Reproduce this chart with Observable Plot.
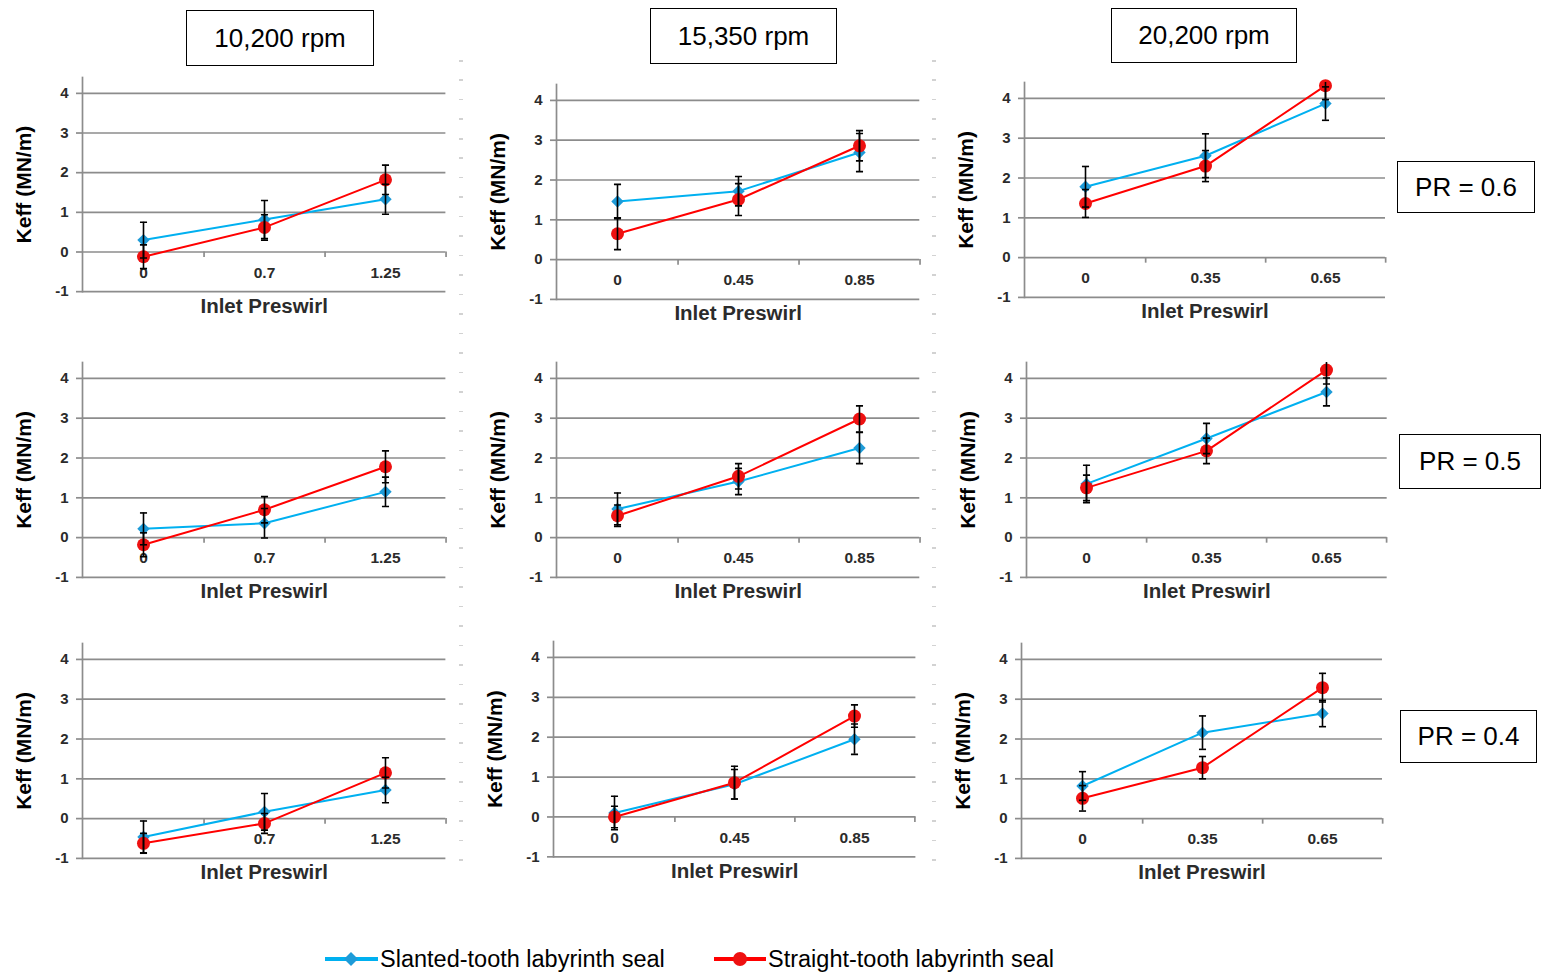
<!DOCTYPE html>
<html>
<head>
<meta charset="utf-8">
<script src="https://cdn.jsdelivr.net/npm/d3@7"></script>
<script src="https://cdn.jsdelivr.net/npm/@observablehq/plot@0.6"></script>
<style>
  html, body { margin: 0; padding: 0; background: #fff; }
  #root { position: relative; width: 1542px; height: 974px; overflow: hidden; font-family: "Liberation Sans", Arial, sans-serif; }
  .box { position: absolute; border: 1.6px solid #000; box-sizing: border-box; display: flex; align-items: center; justify-content: center; font-size: 26px; color: #000; background: #fff; }
  .panel { position: absolute; }
  .sep { position: absolute; width: 4px; background: repeating-linear-gradient(to bottom, #d2d2d2 0 1.5px, transparent 1.5px 19.5px); }
  .legend { position: absolute; left: 0; top: 935px; width: 1542px; height: 40px; }
</style>
</head>
<body>
<div id="root"></div>
<script>
// ---------------- DATA ----------------
const seals = ["Slanted-tooth labyrinth seal", "Straight-tooth labyrinth seal"];
const speeds = ["10,200 rpm", "15,350 rpm", "20,200 rpm"];
const pressureRatios = ["PR = 0.6", "PR = 0.5", "PR = 0.4"];
// inlet preswirl categories, per speed column
const preswirlTicks = [["0", "0.7", "1.25"], ["0", "0.45", "0.85"], ["0", "0.35", "0.65"]];
const yTicks = [-1, 0, 1, 2, 3, 4];
const xTitle = "Inlet Preswirl";
const yTitle = "Keff (MN/m)";
// [PR row][speed column][preswirl]
const slantedKeff = [
  [[0.30, 0.82, 1.33], [1.46, 1.72, 2.69], [1.78, 2.56, 3.87]],
  [[0.22, 0.36, 1.15], [0.72, 1.41, 2.25], [1.35, 2.49, 3.66]],
  [[-0.46, 0.17, 0.72], [0.10, 0.82, 1.95], [0.82, 2.16, 2.64]]
];
const slantedErr = [
  [[0.45, 0.48, 0.38], [0.43, 0.37, 0.48], [0.51, 0.55, 0.42]],
  [[0.40, 0.37, 0.37], [0.40, 0.33, 0.39], [0.47, 0.38, 0.35]],
  [[0.40, 0.46, 0.32], [0.42, 0.37, 0.38], [0.36, 0.42, 0.33]]
];
const straightKeff = [
  [[-0.12, 0.62, 1.82], [0.65, 1.51, 2.86], [1.36, 2.30, 4.32]],
  [[-0.18, 0.70, 1.78], [0.55, 1.54, 2.98], [1.25, 2.18, 4.21]],
  [[-0.62, -0.12, 1.15], [0.00, 0.86, 2.53], [0.51, 1.28, 3.29]]
];
const straightErr = [
  [[0.30, 0.32, 0.37], [0.40, 0.40, 0.38], [0.35, 0.39, 0.35]],
  [[0.30, 0.33, 0.40], [0.27, 0.32, 0.33], [0.32, 0.32, 0.35]],
  [[0.25, 0.25, 0.38], [0.27, 0.41, 0.28], [0.32, 0.28, 0.36]]
];

// ---------------- LAYOUT (plot frames: left, right, y(4), y(-1)) ----------------
const frames = [
  [[82.3, 445.7, 92.7, 291.0], [555.7, 919.0, 100.0, 299.0], [1024.0, 1385.0, 98.3, 297.3]],
  [[82.3, 445.7, 377.7, 576.7], [555.7, 919.0, 377.7, 576.7], [1026.0, 1386.7, 377.7, 576.7]],
  [[82.3, 445.7, 659.3, 858.3], [553.3, 915.7, 657.3, 856.7], [1020.7, 1381.7, 659.3, 858.3]]
];
const headerBoxes = [[186, 10, 188, 56], [650, 8, 187, 56], [1111, 8, 186, 55]];
const prBoxes = [[1397, 161, 138, 52], [1399, 434, 142, 55], [1400, 710, 137, 53]];

const blueLine = "#00B0F0", blueMark = "#1E9BD8";
const redLine = "#FF0000", redMark = "#EE1111";
const gridColor = "#8C8C8C";
const textColor = "#2b2b2b";
const yMax = 4.4;

const root = document.getElementById("root");

// dotted separators (artifact of the composite figure)
[[459, 60, 815], [932, 60, 815]].forEach(([x, y, h]) => {
  const d = document.createElement("div");
  d.className = "sep";
  Object.assign(d.style, {left: x + "px", top: y + "px", height: h + "px"});
  root.appendChild(d);
});

const capSymbol = {
  draw(context, size) {
    const w = Math.sqrt(size);
    context.moveTo(-w / 2, 0);
    context.lineTo(w / 2, 0);
  }
};

for (let r = 0; r < 3; r++) {
  for (let c = 0; c < 3; c++) {
    const [L, R, y4, yb] = frames[r][c];
    const unit = (yb - y4) / 5;
    const frameTop = y4 - (yMax - 4) * unit;
    const mL = 84, mR = 6, mT = 4, mB = 44;
    const width = (R - L) + mL + mR;
    const height = (yb - frameTop) + mT + mB;
    const labels = preswirlTicks[c];
    const step = (R - L) / labels.length;

    const table = [];
    labels.forEach((p, i) => {
      table.push({seal: seals[0], preswirl: p, keff: slantedKeff[r][c][i], err: slantedErr[r][c][i]});
    });
    labels.forEach((p, i) => {
      table.push({seal: seals[1], preswirl: p, keff: straightKeff[r][c][i], err: straightErr[r][c][i]});
    });
    const slantedRows = table.filter(d => d.seal === seals[0]);
    const straightRows = table.filter(d => d.seal === seals[1]);

    const chart = Plot.plot({
      width, height,
      marginLeft: mL, marginRight: mR, marginTop: mT, marginBottom: mB,
      style: {fontFamily: '"Liberation Sans", Arial, sans-serif', background: "transparent", overflow: "visible"},
      x: {type: "point", domain: labels, padding: 0.5, axis: null},
      y: {domain: [-1, yMax], nice: false},
      marks: [
        Plot.ruleY(yTicks, {stroke: gridColor, strokeWidth: 1.7}),
        Plot.frame({anchor: "left", stroke: gridColor, strokeWidth: 1.7}),
        Plot.axisY(yTicks, {
          tickSize: 6, tickPadding: 8, tickFormat: d => String(d),
          stroke: gridColor, strokeWidth: 1.7, fill: textColor,
          fontSize: 15, fontWeight: "bold", label: null
        }),
        // category boundary tick marks on the y = 0 axis
        Plot.ruleX(labels, {x: d => d, y1: 0, y2: -0.14, dx: step / 2, stroke: gridColor, strokeWidth: 1.7}),
        Plot.text(labels, {x: d => d, frameAnchor: "bottom", dy: -14, fill: textColor, fontSize: 15.5, fontWeight: "bold"}),
        Plot.text([xTitle], {frameAnchor: "bottom", dy: 21, fill: textColor, fontSize: 20.5, fontWeight: "bold"}),
        Plot.text([yTitle], {frameAnchor: "left", textAnchor: "middle", dx: -58, rotate: -90, fill: "#000", fontSize: 21, fontWeight: "bold"}),
        // series lines
        Plot.line(slantedRows, {x: "preswirl", y: "keff", stroke: blueLine, strokeWidth: 2}),
        Plot.line(straightRows, {x: "preswirl", y: "keff", stroke: redLine, strokeWidth: 2}),
        // markers
        Plot.dot(slantedRows, {x: "preswirl", y: "keff", symbol: "diamond2", r: 5.6, fill: blueMark, stroke: "none"}),
        Plot.dot(straightRows, {x: "preswirl", y: "keff", symbol: "circle", r: 6.5, fill: redMark, stroke: "none"}),
        // error bars
        Plot.ruleX(table, {x: "preswirl", y1: d => d.keff - d.err, y2: d => d.keff + d.err, stroke: "#000", strokeWidth: 1.6, clip: true}),
        Plot.dot(table, {x: "preswirl", y: d => d.keff + d.err, symbol: capSymbol, r: 4, stroke: "#000", strokeWidth: 1.6, fill: "none", clip: true}),
        Plot.dot(table, {x: "preswirl", y: d => d.keff - d.err, symbol: capSymbol, r: 4, stroke: "#000", strokeWidth: 1.6, fill: "none", clip: true})
      ]
    });
    const wrap = document.createElement("div");
    wrap.className = "panel";
    wrap.style.left = (L - mL) + "px";
    wrap.style.top = (frameTop - mT) + "px";
    wrap.appendChild(chart);
    root.appendChild(wrap);
  }
}

// header boxes
speeds.forEach((s, i) => {
  const [x, y, w, h] = headerBoxes[i];
  const d = document.createElement("div");
  d.className = "box";
  Object.assign(d.style, {left: x + "px", top: y + "px", width: w + "px", height: h + "px"});
  d.textContent = s;
  root.appendChild(d);
});
pressureRatios.forEach((s, i) => {
  const [x, y, w, h] = prBoxes[i];
  const d = document.createElement("div");
  d.className = "box";
  Object.assign(d.style, {left: x + "px", top: y + "px", width: w + "px", height: h + "px"});
  d.textContent = s;
  root.appendChild(d);
});

// legend
const legend = document.createElementNS("http://www.w3.org/2000/svg", "svg");
legend.setAttribute("class", "legend");
legend.setAttribute("width", 1542);
legend.setAttribute("height", 40);
legend.innerHTML = `
  <line x1="325" x2="378" y1="24" y2="24" stroke="${blueLine}" stroke-width="4"/>
  <path d="M351,17 L358,24 L351,31 L344,24 Z" fill="${blueMark}"/>
  <text x="380" y="32" font-size="23.5" font-family="Liberation Sans, Arial, sans-serif" fill="#000">${seals[0]}</text>
  <line x1="714" x2="766" y1="24" y2="24" stroke="${redLine}" stroke-width="4"/>
  <circle cx="740" cy="24" r="7" fill="${redMark}"/>
  <text x="768" y="32" font-size="23.5" font-family="Liberation Sans, Arial, sans-serif" fill="#000">${seals[1]}</text>
`;
root.appendChild(legend);
</script>
</body>
</html>
